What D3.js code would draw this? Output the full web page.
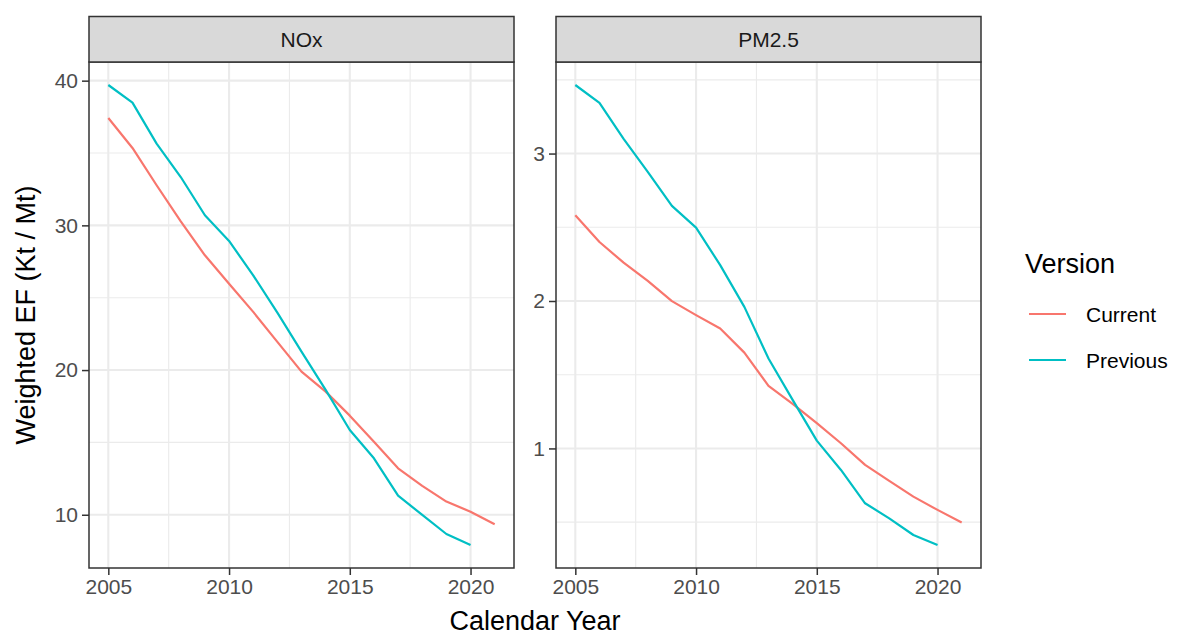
<!DOCTYPE html>
<html>
<head>
<meta charset="utf-8">
<script src="https://cdn.jsdelivr.net/npm/d3@7"></script>
<style>
  html, body { margin: 0; padding: 0; background: #ffffff; }
  svg { display: block; font-family: "Liberation Sans", Arial, sans-serif; }
</style>
</head>
<body>
<svg id="chart" width="1177" height="635"></svg>
<script>
// Calendar years covered by each version
const yearsCurrent = [2005, 2006, 2007, 2008, 2009, 2010, 2011, 2012, 2013, 2014, 2015, 2016, 2017, 2018, 2019, 2020, 2021];
const yearsPrevious = [2005, 2006, 2007, 2008, 2009, 2010, 2011, 2012, 2013, 2014, 2015, 2016, 2017, 2018, 2019, 2020];

// Weighted emission factors (Kt / Mt)
const noxCurrent = [37.42, 35.35, 32.77, 30.28, 27.93, 25.97, 24.02, 21.95, 19.89, 18.51, 16.85, 15.05, 13.21, 12.0, 10.91, 10.21, 9.34];
const noxPrevious = [39.7, 38.48, 35.65, 33.34, 30.7, 28.92, 26.55, 23.97, 21.27, 18.63, 15.86, 13.9, 11.32, 9.99, 8.67, 7.91];
const pmCurrent = [2.582, 2.40, 2.26, 2.136, 1.999, 1.904, 1.813, 1.65, 1.424, 1.302, 1.171, 1.035, 0.888, 0.78, 0.673, 0.583, 0.497];
const pmPrevious = [3.465, 3.344, 3.10, 2.876, 2.645, 2.498, 2.243, 1.96, 1.61, 1.329, 1.053, 0.854, 0.628, 0.526, 0.413, 0.345];

// Facets, versions and tick labels
const pollutants = ["NOx", "PM2.5"];
const versions = ["Current", "Previous"];
const versionColors = ["#F8766D", "#00BFC4"];
const xTicks = [2005, 2010, 2015, 2020];
const xMinor = [2007.5, 2012.5, 2017.5];
const noxTicks = [10, 20, 30, 40];
const noxMinor = [15, 25, 35];
const pmTicks = [1, 2, 3];
const pmMinor = [0.5, 1.5, 2.5, 3.5];

const facets = [
  { name: pollutants[0], series: [[yearsCurrent, noxCurrent], [yearsPrevious, noxPrevious]], ticks: noxTicks, minor: noxMinor },
  { name: pollutants[1], series: [[yearsCurrent, pmCurrent], [yearsPrevious, pmPrevious]], ticks: pmTicks, minor: pmMinor }
];

const svg = d3.select("#chart");
const panelTop = 62, panelBottom = 568, stripTop = 16.5;
const panelX = [[89, 514], [556, 981]];

// ggplot-style 5% expansion of a continuous range
function expand(ext) {
  const pad = (ext[1] - ext[0]) * 0.05;
  return [ext[0] - pad, ext[1] + pad];
}

const allYears = yearsCurrent.concat(yearsPrevious);
const xDomain = expand(d3.extent(allYears));

facets.forEach((f, i) => {
  const [x0, x1] = panelX[i];
  const x = d3.scaleLinear().domain(xDomain).range([x0, x1]);
  const allVals = f.series[0][1].concat(f.series[1][1]);
  const y = d3.scaleLinear().domain(expand(d3.extent(allVals))).range([panelBottom, panelTop]);

  const g = svg.append("g");

  // panel background
  g.append("rect").attr("x", x0).attr("y", panelTop)
    .attr("width", x1 - x0).attr("height", panelBottom - panelTop).attr("fill", "#ffffff");

  // minor grid
  g.selectAll(".vminor").data(xMinor).join("line")
    .attr("x1", d => x(d)).attr("x2", d => x(d)).attr("y1", panelTop).attr("y2", panelBottom)
    .attr("stroke", "#EBEBEB").attr("stroke-width", 1.1);
  g.selectAll(".hminor").data(f.minor.filter(v => y(v) > panelTop && y(v) < panelBottom)).join("line")
    .attr("x1", x0).attr("x2", x1).attr("y1", d => y(d)).attr("y2", d => y(d))
    .attr("stroke", "#EBEBEB").attr("stroke-width", 1.1);

  // major grid
  g.append("g").selectAll("line").data(xTicks).join("line")
    .attr("x1", d => x(d)).attr("x2", d => x(d)).attr("y1", panelTop).attr("y2", panelBottom)
    .attr("stroke", "#EBEBEB").attr("stroke-width", 2.1);
  g.append("g").selectAll("line").data(f.ticks).join("line")
    .attr("x1", x0).attr("x2", x1).attr("y1", d => y(d)).attr("y2", d => y(d))
    .attr("stroke", "#EBEBEB").attr("stroke-width", 2.1);

  // series lines
  const line = d3.line().x(d => x(d[0])).y(d => y(d[1]));
  f.series.forEach((s, k) => {
    const pts = s[0].map((yr, j) => [yr, s[1][j]]);
    g.append("path").datum(pts).attr("d", line)
      .attr("fill", "none").attr("stroke", versionColors[k])
      .attr("stroke-width", 2.2).attr("stroke-linejoin", "round").attr("stroke-linecap", "butt");
  });

  // panel border
  g.append("rect").attr("x", x0).attr("y", panelTop)
    .attr("width", x1 - x0).attr("height", panelBottom - panelTop)
    .attr("fill", "none").attr("stroke", "#333333").attr("stroke-width", 1.5);

  // strip
  g.append("rect").attr("x", x0).attr("y", stripTop)
    .attr("width", x1 - x0).attr("height", panelTop - stripTop)
    .attr("fill", "#D9D9D9").attr("stroke", "#333333").attr("stroke-width", 1.5);
  g.append("text").attr("x", (x0 + x1) / 2).attr("y", (stripTop + panelTop) / 2)
    .attr("dy", "0.36em").attr("text-anchor", "middle")
    .attr("font-size", 21).attr("fill", "#1A1A1A").text(f.name);

  // axes
  const xAxis = g.append("g").attr("transform", `translate(0,${panelBottom})`)
    .call(d3.axisBottom(x).tickValues(xTicks).tickFormat(d3.format("d")).tickSizeOuter(0).tickSizeInner(7).tickPadding(4));
  const yAxis = g.append("g").attr("transform", `translate(${x0},0)`)
    .call(d3.axisLeft(y).tickValues(f.ticks).tickFormat(d3.format("d")).tickSizeOuter(0).tickSizeInner(7).tickPadding(4));
  [xAxis, yAxis].forEach(a => {
    a.select(".domain").remove();
    a.selectAll(".tick line").attr("stroke", "#333333").attr("stroke-width", 1.5);
    a.selectAll(".tick text").attr("fill", "#4D4D4D").attr("font-size", 21)
      .attr("font-family", "Liberation Sans, Arial, sans-serif");
  });
});

// axis titles
svg.append("text").attr("x", (panelX[0][0] + panelX[1][1]) / 2).attr("y", 630)
  .attr("text-anchor", "middle").attr("font-size", 27).attr("fill", "#000000").text("Calendar Year");
svg.append("text").attr("transform", `translate(35,${(panelTop + panelBottom) / 2}) rotate(-90)`)
  .attr("text-anchor", "middle").attr("font-size", 27).attr("fill", "#000000").text("Weighted EF (Kt / Mt)");

// legend
const legend = svg.append("g");
legend.append("text").attr("x", 1025).attr("y", 273).attr("font-size", 27).attr("fill", "#000000").text("Version");
versions.forEach((v, k) => {
  const cy = 314 + k * 46;
  legend.append("line").attr("x1", 1029).attr("x2", 1066).attr("y1", cy).attr("y2", cy)
    .attr("stroke", versionColors[k]).attr("stroke-width", 2.2);
  legend.append("text").attr("x", 1086).attr("y", cy).attr("dy", "0.36em")
    .attr("font-size", 21).attr("fill", "#000000").text(v);
});
</script>
</body>
</html>
